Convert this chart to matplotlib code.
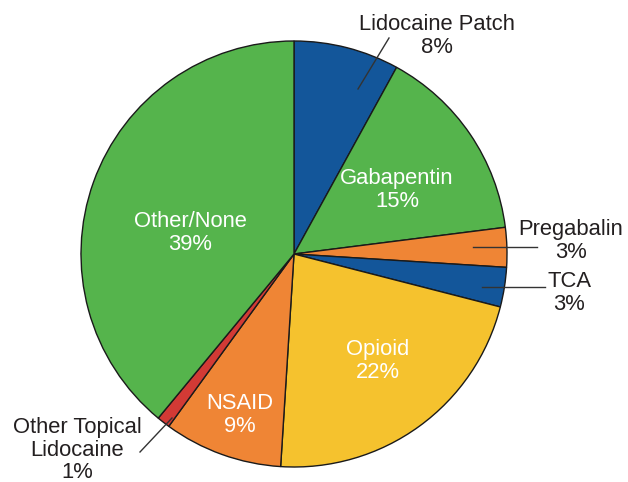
import matplotlib
matplotlib.use("Agg")
import matplotlib.pyplot as plt

# data
labels = ["Lidocaine Patch", "Gabapentin", "Pregabalin", "TCA", "Opioid",
          "NSAID", "Other Topical\nLidocaine", "Other/None"]
shares = [8, 15, 3, 3, 22, 9, 1, 39]
colors = ["#13569a", "#55b44c", "#ef8535", "#13569a", "#f5c22e",
          "#ef8535", "#d23a35", "#55b44c"]

plt.rcParams["font.family"] = ["Liberation Sans", "DejaVu Sans"]

W, H = 628, 482
fig = plt.figure(figsize=(W / 100, H / 100), dpi=100)
ax = fig.add_axes([0, 0, 1, 1])

cx, cy, r = 294, H - 254, 213
ax.pie(shares, colors=colors, startangle=90, counterclock=False,
       center=(cx, cy), radius=r, frame=True,
       wedgeprops=dict(edgecolor="#1a1a1a", linewidth=1.0))
ax.set_xlim(0, W)
ax.set_ylim(0, H)
ax.set_aspect("equal")
ax.axis("off")

fs = 15.8
# labels inside slices (white)
inside = {
    "Gabapentin": (397, 190),
    "Other/None": (190, 233),
    "Opioid": (378, 361),
    "NSAID": (240, 415),
}
for name, (x, y) in inside.items():
    v = shares[labels.index(name)]
    ax.text(x, H - y, f"{name}\n{v}%", color="white", fontsize=fs,
            ha="center", va="center", linespacing=1.08)

# outside labels with leader lines
outside = [
    ("Lidocaine Patch", (437, 36), (358, 89), (389, 38)),
    ("Pregabalin", (571, 241), (473, 247), (537, 247)),
    ("TCA", (569, 293), (482, 287), (545, 287)),
    ("Other Topical\nLidocaine", (77, 450), (172, 418), (140, 452)),
]
for name, (tx, ty), p0, p1 in outside:
    v = shares[labels.index(name)]
    ax.text(tx, H - ty, f"{name}\n{v}%", color="#231f20", fontsize=fs,
            ha="center", va="center", linespacing=1.08)
    ax.plot([p0[0], p1[0]], [H - p0[1], H - p1[1]], color="#333333", lw=1.0)

fig.savefig("out.png", dpi=100)
